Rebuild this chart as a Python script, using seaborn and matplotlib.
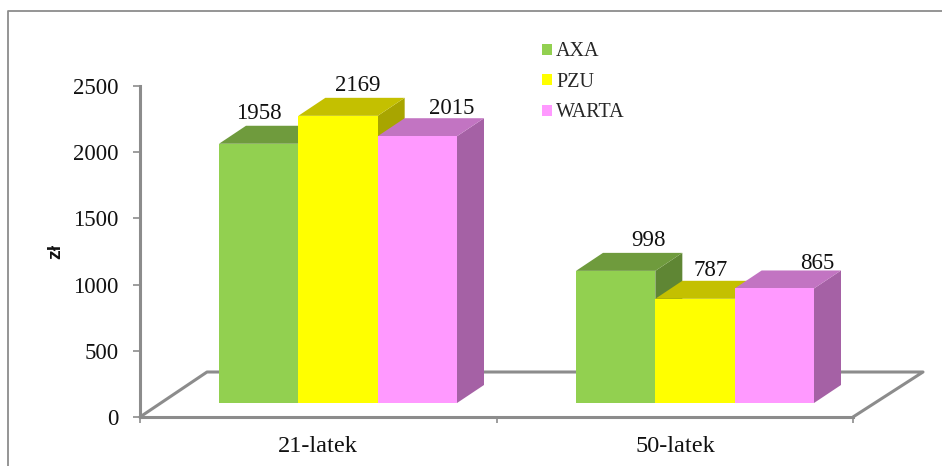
import matplotlib
matplotlib.use("Agg")
import matplotlib.pyplot as plt
import pandas as pd
import seaborn as sns
from matplotlib.lines import Line2D
from matplotlib.patches import Polygon

# values from the chart
groups = ["21-latek", "50-latek"]
firms = ["AXA", "PZU", "WARTA"]
axa_values = [1958, 998]
pzu_values = [2169, 787]
warta_values = [2015, 865]

front_colors = ["#92D050", "#FFFF00", "#FF99FF"]
top_colors = ["#6F9B3D", "#C4C000", "#C274C2"]
side_colors = ["#5F8634", "#A8A500", "#A561A5"]
grey = "#8C8C8C"

W, H = 942, 466
PX_X = 357.0  # px per category
PX_Y = 331 / 2500  # px per unit
base = 14 / PX_Y  # bars stand on the floor, above the zero line
depth_x = 27 / PX_X
depth_y = 18 / PX_Y

# label offsets from the bar's top centre, in px
label_dx = [[0, 20, 34], [33, 16, 43]]
label_dy = [[30, 30, 28], [30, 28, 25]]

sns.set_theme(style="white")
plt.rcParams["font.family"] = ["Liberation Serif", "DejaVu Serif"]

df = pd.DataFrame({
    "group": groups * 3,
    "firm": [f for f in firms for _ in groups],
    "value": axa_values + pzu_values + warta_values,
})

fig = plt.figure(figsize=(W / 100, H / 100), dpi=100)
ax = fig.add_axes([140 / W, 1 - 417 / H, 713 / W, 331 / H])

sns.barplot(data=df, x="group", y="value", hue="firm", order=groups, hue_order=firms,
            palette=front_colors, width=238 / PX_X, gap=0, saturation=1,
            linewidth=0, errorbar=None, ax=ax)

left = (140 - 338) / PX_X
right = (853 - 338) / PX_X
ax.set_xlim(left, right)
ax.set_ylim(0, 2500)

# 3d sides and tops, built from the bars seaborn drew
for h, cont in enumerate(ax.containers):
    for g, bar in enumerate(cont):
        bar.set_y(base)
        x0 = bar.get_x()
        x1 = x0 + bar.get_width()
        y0 = bar.get_y()
        y1 = y0 + bar.get_height()
        bar.set_zorder(3.5 + h)
        ax.add_patch(Polygon([(x1, y0), (x1 + depth_x, y0 + depth_y), (x1 + depth_x, y1 + depth_y), (x1, y1)],
                             closed=True, fc=side_colors[h], ec="none", zorder=3 + h, clip_on=False))
        ax.add_patch(Polygon([(x0, y1), (x0 + depth_x, y1 + depth_y), (x1 + depth_x, y1 + depth_y), (x1, y1)],
                             closed=True, fc=top_colors[h], ec="none", zorder=3 + h, clip_on=False))
        ax.annotate(str(int(bar.get_height())), ((x0 + x1) / 2, y1),
                    xytext=(label_dx[g][h] * 0.72, label_dy[g][h] * 0.72), textcoords="offset points",
                    ha="center", va="center", fontsize=16.5, color="#111111", zorder=10, annotation_clip=False)

# floor outline
floor_y = 45 / PX_Y
ax.plot([left, left + 67 / PX_X, right + 70 / PX_X, right], [0, floor_y, floor_y, 0],
        color=grey, lw=2.2, zorder=2, clip_on=False, scalex=False, scaley=False)

# axes
for side in ["top", "right"]:
    ax.spines[side].set_visible(False)
for side in ["left", "bottom"]:
    ax.spines[side].set_color(grey)
    ax.spines[side].set_linewidth(2.2)

ax.set_yticks([0, 500, 1000, 1500, 2000, 2500])
ax.tick_params(axis="y", length=5, width=1.2, color=grey, pad=10.5, labelsize=16.5, labelcolor="#111111", left=True)
ax.set_xticks([left, (left + right) / 2, right], ["", "", ""])
ax.tick_params(axis="x", which="major", length=4, width=1.2, color=grey, bottom=True)
ax.set_xticks([-20 / PX_X, 1 - 20 / PX_X], groups, minor=True)
ax.tick_params(axis="x", which="minor", length=0, pad=14, labelsize=17.5, labelcolor="#111111")

ax.set_xlabel("")
ax.set_ylabel("")
fig.text(56 / W, 1 - 251 / H, "zł", rotation=90, ha="center", va="center",
         family="Liberation Sans", fontweight="bold", fontsize=14, color="#111111")

sns.move_legend(ax, "upper left", bbox_to_anchor=(542 / W, 1 - 42.5 / H), bbox_transform=fig.transFigure,
                frameon=False, title=None, fontsize=14.5, handlelength=0.5, handleheight=0.45,
                handletextpad=0.2, labelspacing=0.57, borderpad=0, borderaxespad=0)

# outer frame, open at right and bottom
fig.add_artist(Line2D([8 / W, 8 / W, 1], [0, 1 - 11 / H, 1 - 11 / H], color=grey, lw=1.3))

fig.savefig("out.png", dpi=100)
